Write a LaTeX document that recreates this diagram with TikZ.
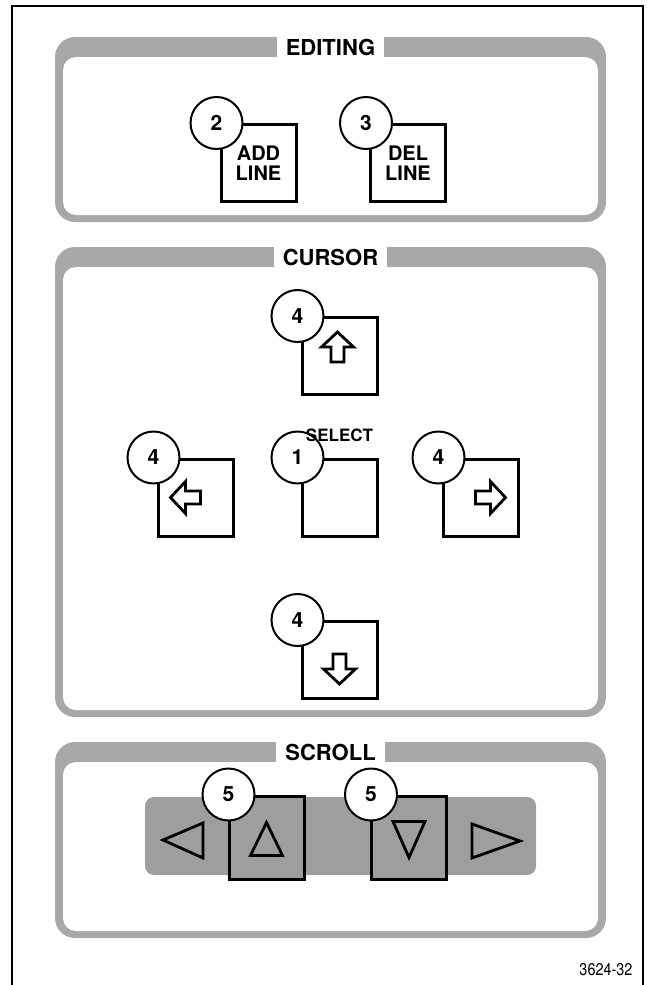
\documentclass[tikz,border=0pt]{standalone}
\usepackage{fontspec}
\setmainfont{TeX Gyre Heros}
\usetikzlibrary{positioning}

\tikzset{
  band/.style={fill=black!34, rounded corners=20pt},
  well/.style={fill=white, rounded corners=13pt},
  heading/.style={fill=white, inner xsep=9pt, inner ysep=0pt, minimum height=20pt,
    font=\bfseries\fontsize{22}{22}\selectfont},
  keybox/.style={draw, line width=3pt, minimum width=75pt, minimum height=77pt, inner sep=0pt,
    align=center, font=\bfseries\fontsize{20}{20.5}\selectfont},
  badge/.style={circle, draw, fill=white, line width=2pt, minimum size=52pt, inner sep=0pt,
    font=\bfseries\fontsize{21}{21}\selectfont},
  glyph/.style={draw, line width=2.8pt, line join=miter},
  arrowglyph/.pic={
    \draw[glyph] (0,-15) -- (16,0) -- (6.5,0) -- (6.5,15) -- (-6.5,15) -- (-6.5,0) -- (-16,0) -- cycle;
  }
}

\begin{document}
\begin{tikzpicture}[x=1pt,y=-1pt]
\useasboundingbox (0,0) rectangle (647,985);

\draw[line width=2pt] (12,985) -- (12,6) -- (643,6) -- (643,985);

% editing
\fill[band] (55,37) rectangle (606,222);
\fill[well] (63,57) rectangle (598,215);
\node[heading] (editing) at (330.5,47) {EDITING};

\node[keybox] (addkey) at (258.5,163) {ADD\\LINE};
\node[keybox] (delkey) at (408,163) {DEL\\LINE};
\node[badge] (b2) at ([xshift=-3pt]addkey.north west) {2};
\node[badge] (b3) at ([xshift=-3pt]delkey.north west) {3};

% cursor
\fill[band] (55,247) rectangle (606,717);
\fill[well] (63,267) rectangle (598,710);
\node[heading] (cursor) at (330.5,257) {CURSOR};

\node[keybox] (upkey) at (339.5,356) {};
\node[keybox] (leftkey) at (195.5,497.5) {};
\node[keybox] (selkey) at (339.5,497.5) {};
\node[keybox] (rightkey) at (480.5,497.5) {};
\node[keybox] (downkey) at (339.5,660) {};

\pic at ([shift={(-2,-9)}]upkey.center) {arrowglyph};
\pic[rotate=90] at ([shift={(-10,0)}]leftkey.center) {arrowglyph};
\pic[rotate=-90] at ([shift={(10,0)}]rightkey.center) {arrowglyph};
\pic[rotate=180] at ([shift={(0,9)}]downkey.center) {arrowglyph};

\node[badge] (b4u) at ([xshift=-3pt]upkey.north west) {4};
\node[badge] (b4l) at ([xshift=-3pt]leftkey.north west) {4};
\node[badge] (b1) at ([xshift=-3pt]selkey.north west) {1};
\node[badge] (b4r) at ([xshift=-3pt]rightkey.north west) {4};
\node[badge] (b4d) at ([xshift=-3pt]downkey.north west) {4};
\node[font=\bfseries\fontsize{17}{17}\selectfont] (select) at (339.5,435) {SELECT};

% scroll
\fill[band] (55,742) rectangle (606,938);
\fill[well] (63,762) rectangle (598,931);
\node[heading] (scroll) at (330.5,752) {SCROLL};

\fill[black!38, rounded corners=9pt] (145,797) rectangle (536,875);
\node[keybox, fill=black!38, minimum height=83pt] (pgup) at (266.5,837.5) {};
\node[keybox, fill=black!38, minimum height=83pt] (pgdn) at (409,837.5) {};

\draw[glyph] (163,840) -- (203,823) -- (203,858) -- cycle;
\draw[glyph] ([shift={(0,-15)}]pgup.center) -- ([shift={(16,18)}]pgup.center) -- ([shift={(-16,18)}]pgup.center) -- cycle;
\draw[glyph] ([shift={(0,20)}]pgdn.center) -- ([shift={(16,-16)}]pgdn.center) -- ([shift={(-16,-16)}]pgdn.center) -- cycle;
\draw[glyph] (520,841) -- (472,824) -- (472,858) -- cycle;

\node[badge] (b5u) at ([xshift=1pt]pgup.north west) {5};
\node[badge] (b5d) at ([xshift=1pt]pgdn.north west) {5};

\node[font=\fontsize{17}{17}\selectfont] (code) at (606,970) {\scalebox{0.85}[1]{3624-32}};
\end{tikzpicture}
\end{document}
